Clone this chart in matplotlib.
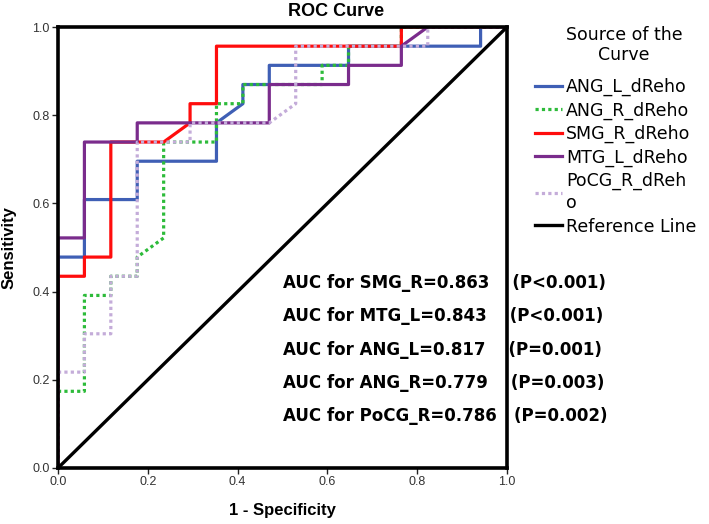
import matplotlib
matplotlib.use('Agg')
import matplotlib.pyplot as plt
from matplotlib.lines import Line2D

W, H = 709, 524

# data: 17 negatives, 23 positives -> steps of 1/17 and 1/23
NX, NY = 17, 23
ang_l_x = [0, 0, 1, 1, 3, 3, 6, 6, 7, 7, 8, 8, 11, 11, 16, 16, 17]
ang_l_y = [0, 11, 11, 14, 14, 16, 16, 18, 19, 20, 20, 21, 21, 22, 22, 23, 23]
ang_r_x = [0, 0, 1, 1, 2, 2, 3, 3, 4, 4, 6, 6, 7, 7, 10, 10, 11, 11, 13, 13, 17]
ang_r_y = [0, 4, 4, 9, 9, 10, 10, 11, 12, 17, 17, 19, 19, 20, 20, 21, 21, 22, 22, 23, 23]
smg_r_x = [0, 0, 1, 1, 2, 2, 4, 5, 5, 6, 6, 13, 13, 17]
smg_r_y = [0, 10, 10, 11, 11, 17, 17, 18, 19, 19, 22, 22, 23, 23]
mtg_l_x = [0, 0, 1, 1, 3, 3, 8, 8, 11, 11, 13, 13, 14, 17]
mtg_l_y = [0, 12, 12, 17, 17, 18, 18, 20, 20, 21, 21, 22, 23, 23]
pocg_r_x = [0, 0, 1, 1, 2, 2, 3, 3, 5, 5, 8, 9, 9, 14, 14, 17]
pocg_r_y = [0, 5, 5, 7, 7, 10, 10, 17, 17, 18, 18, 19, 22, 22, 23, 23]

labels = ['ANG_L_dReho', 'ANG_R_dReho', 'SMG_R_dReho', 'MTG_L_dReho',
          'PoCG_R_dReh\no', 'Reference Line']
auc_lines = ['AUC for SMG_R=0.863    (P<0.001)',
             'AUC for MTG_L=0.843    (P<0.001)',
             'AUC for ANG_L=0.817    (P=0.001)',
             'AUC for ANG_R=0.779    (P=0.003)',
             'AUC for PoCG_R=0.786   (P=0.002)']

fig = plt.figure(figsize=(W / 100, H / 100), dpi=100)
ax = fig.add_axes([58 / W, 1 - 468 / H, 449 / W, 441 / H])

curves = [
    (ang_l_x, ang_l_y, '#3f5fb5', '-'),
    (ang_r_x, ang_r_y, '#2dbb3a', (0, (1, 1))),
    (smg_r_x, smg_r_y, '#ff0d0d', '-'),
    (mtg_l_x, mtg_l_y, '#7a2c8c', '-'),
    (pocg_r_x, pocg_r_y, '#c4acd9', (0, (1, 1))),
]
handles = []
for xs, ys, c, ls in curves:
    ax.plot([v / NX for v in xs], [v / NY for v in ys], color=c, lw=2.3,
            linestyle=ls, solid_capstyle='butt')
    handles.append(Line2D([], [], color=c, lw=2.3, linestyle=ls))
ax.plot([0, 1], [0, 1], color='black', lw=2.4)
handles.append(Line2D([], [], color='black', lw=2.4))

ax.set_xlim(0, 1)
ax.set_ylim(0, 1)
ticks = [0, 0.2, 0.4, 0.6, 0.8, 1.0]
ax.set_xticks(ticks)
ax.set_yticks(ticks)
ax.set_xticklabels(['%.1f' % t for t in ticks])
ax.set_yticklabels(['%.1f' % t for t in ticks])
ax.tick_params(length=4, width=1, color='#222222', labelsize=9,
               labelcolor='#333333', pad=2)
for lab in ax.get_xticklabels() + ax.get_yticklabels():
    lab.set_family('Liberation Sans')
for sp in ax.spines.values():
    sp.set_linewidth(2.6)

ax.set_xlabel('1 - Specificity', fontsize=12, fontweight='bold',
              family='Liberation Sans')
ax.set_ylabel('Sensitivity', fontsize=12, fontweight='bold',
              family='Liberation Sans')
ax.xaxis.set_label_coords(0.5, -43 / 441, transform=ax.transAxes)
ax.yaxis.set_label_coords(-49 / 449, 0.5, transform=ax.transAxes)
ax.xaxis.label.set_va('center')
ax.yaxis.label.set_va('center')
fig.text(288 / W, 1 - 11 / H, 'ROC Curve', fontsize=13, fontweight='bold',
         family='Liberation Sans', va='center', ha='left')

# legend title written separately, entries below
fig.text(624 / W, 1 - 45 / H, 'Source of the\nCurve', fontsize=12.5,
         family='DejaVu Sans', ha='center', va='center', linespacing=1.1)
leg = ax.legend(handles, labels, loc='upper left',
                bbox_to_anchor=(535 / W, 1 - 78 / H),
                bbox_transform=fig.transFigure, frameon=False,
                handlelength=1.55, handletextpad=0.25, labelspacing=0.3,
                borderpad=0, borderaxespad=0,
                prop={'family': 'DejaVu Sans', 'size': 12.5})
leg.get_texts()[4].set_linespacing(1.3)

for i, s in enumerate(auc_lines):
    fig.text(283 / W, 1 - (283 + i * 33.3) / H, s, fontsize=12,
             fontweight='bold', family='DejaVu Sans', va='center')

fig.savefig('out.png', dpi=100)
